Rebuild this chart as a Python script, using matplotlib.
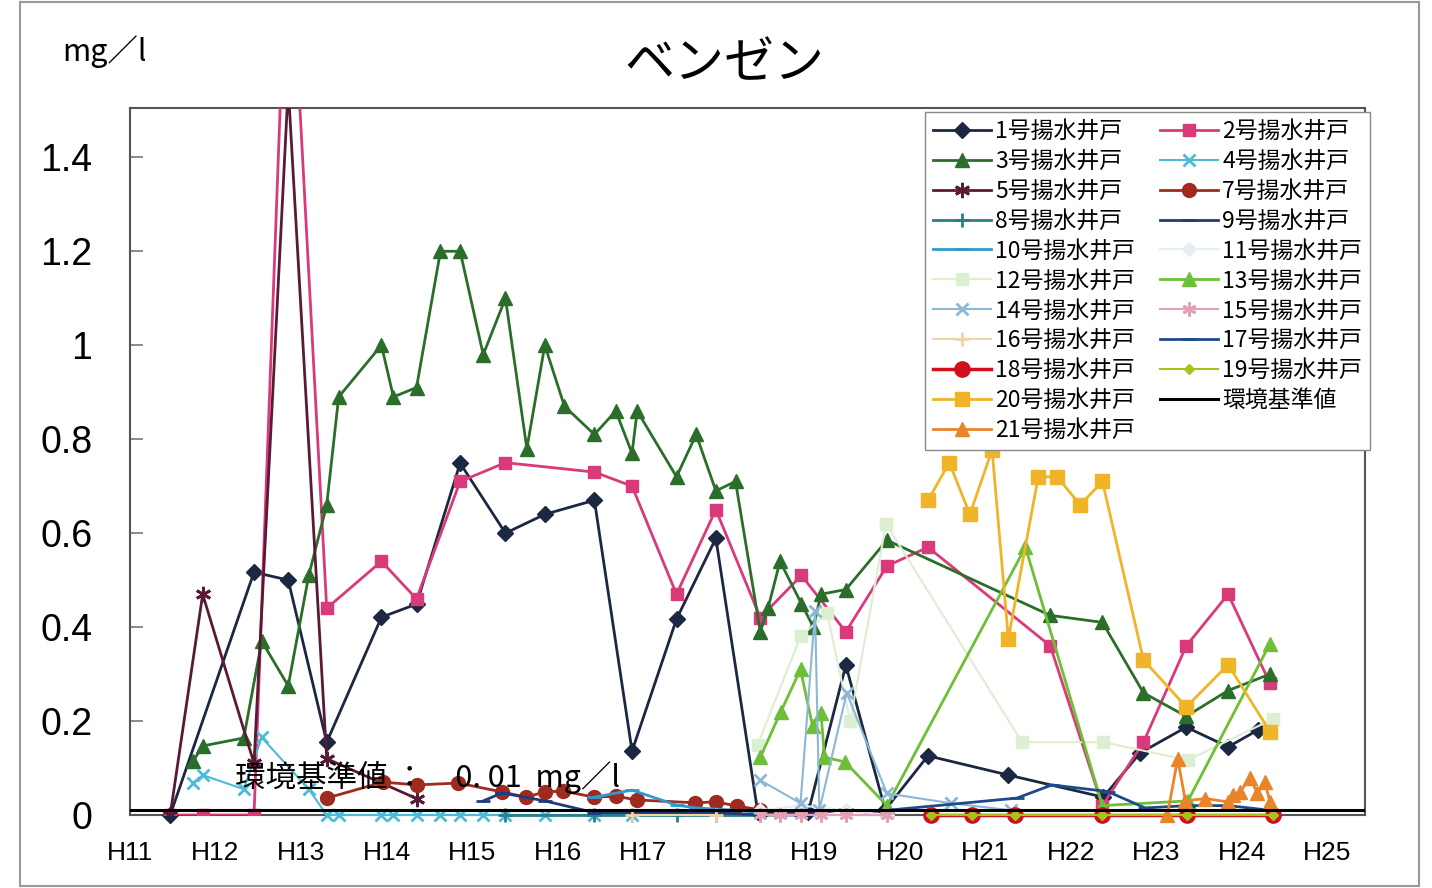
import matplotlib
matplotlib.use("Agg")
import matplotlib.pyplot as plt
from matplotlib.patches import Rectangle

plt.rcParams['font.family'] = ['Liberation Sans', 'Noto Sans CJK JP', 'DejaVu Sans']
JP = ['Noto Sans CJK JP', 'DejaVu Sans']

# ---------------- data (year in Heisei, benzene mg/l) ----------------
x1 = [11.47, 12.45, 12.85, 13.30, 13.94, 14.35, 14.86, 15.39, 15.85, 16.43, 16.87, 17.39, 17.85, 18.34, 18.93, 19.37, 19.83, 20.33, 21.27, 22.38, 22.81, 23.35, 23.84, 24.19]
y1 = [0.0, 0.517, 0.500, 0.155, 0.421, 0.449, 0.749, 0.600, 0.640, 0.670, 0.136, 0.417, 0.589, 0.006, 0.006, 0.319, 0.011, 0.126, 0.085, 0.038, 0.132, 0.187, 0.145, 0.181]

x2 = [11.47, 11.85, 12.45, 12.85, 13.30, 13.94, 14.35, 14.86, 15.39, 16.43, 16.87, 17.39, 17.85, 18.37, 18.85, 19.37, 19.85, 20.33, 21.76, 22.37, 22.85, 23.35, 23.84, 24.33]
y2 = [0.0, 0.0, 0.0, 1.97, 0.44, 0.54, 0.46, 0.71, 0.75, 0.73, 0.70, 0.47, 0.65, 0.42, 0.51, 0.39, 0.53, 0.57, 0.36, 0.02, 0.155, 0.36, 0.47, 0.28]

x3 = [11.74, 11.85, 12.33, 12.54, 12.85, 13.09, 13.30, 13.44, 13.94, 14.08, 14.35, 14.63, 14.86, 15.13, 15.39, 15.64, 15.85, 16.08, 16.43, 16.68, 16.87, 16.93, 17.39, 17.62, 17.85, 18.08, 18.37, 18.46, 18.60, 18.85, 18.99, 19.08, 19.37, 19.85, 21.76, 22.37, 22.85, 23.35, 23.84, 24.33]
y3 = [0.115, 0.147, 0.164, 0.37, 0.275, 0.51, 0.66, 0.89, 1.0, 0.89, 0.91, 1.2, 1.2, 0.98, 1.1, 0.78, 1.0, 0.87, 0.81, 0.86, 0.77, 0.86, 0.72, 0.81, 0.69, 0.71, 0.39, 0.44, 0.54, 0.45, 0.40, 0.47, 0.48, 0.585, 0.425, 0.41, 0.26, 0.21, 0.265, 0.30]

x4 = [11.74, 11.85, 12.33, 12.54, 13.09, 13.30, 13.44, 13.94, 14.08, 14.35, 14.63, 14.86, 15.13, 15.39, 15.85, 16.43, 16.87]
y4 = [0.068, 0.085, 0.055, 0.165, 0.055, 0.0, 0.0, 0.0, 0.0, 0.0, 0.0, 0.0, 0.0, 0.0, 0.0, 0.0, 0.0]

x5 = [11.47, 11.85, 12.45, 12.85, 13.30, 14.35]
y5 = [0.0, 0.47, 0.11, 1.55, 0.12, 0.035]

x7 = [13.30, 13.96, 14.35, 14.84, 15.35, 15.63, 15.85, 16.06, 16.43, 16.68, 16.93, 17.61, 17.85, 18.10, 18.37]
y7 = [0.036, 0.070, 0.064, 0.068, 0.049, 0.038, 0.049, 0.051, 0.038, 0.040, 0.032, 0.026, 0.028, 0.019, 0.011]

x8 = [15.39, 16.43, 16.87, 17.39, 17.85, 18.37]
y8 = [0.0, 0.0, 0.0, 0.0, 0.0, 0.0]

x9 = [15.13, 15.35, 15.85, 16.43, 16.87, 17.39, 17.85, 18.37, 18.85, 19.37, 19.85]
y9 = [0.03, 0.047, 0.03, 0.005, 0.005, 0.005, 0.005, 0.0, 0.0, 0.012, 0.0]

x10 = [16.43, 16.87, 17.39, 17.62, 18.10, 18.37]
y10 = [0.038, 0.053, 0.021, 0.015, 0.01, 0.005]

x11 = [18.37, 18.85, 19.37, 19.85]
y11 = [0.01, 0.02, 0.01, 0.0]

x12 = [18.34, 18.84, 19.15, 19.42, 19.84, 21.43, 22.38, 23.37, 24.37]
y12 = [0.15, 0.38, 0.43, 0.20, 0.62, 0.155, 0.155, 0.117, 0.205]

x13 = [18.37, 18.61, 18.84, 18.98, 19.08, 19.12, 19.36, 19.85, 21.47, 22.37, 23.37, 24.33]
y13 = [0.123, 0.22, 0.31, 0.19, 0.217, 0.123, 0.113, 0.02, 0.57, 0.02, 0.03, 0.365]

x14 = [18.37, 18.84, 19.01, 19.06, 19.38, 19.85, 20.6, 21.3]
y14 = [0.074, 0.025, 0.435, 0.01, 0.26, 0.046, 0.025, 0.01]

x15 = [18.37, 18.60, 18.84, 19.08, 19.37, 19.85]
y15 = [0.0, 0.0, 0.0, 0.0, 0.0, 0.0]

x16 = [16.87, 17.85]
y16 = [0.0, 0.0]

x17 = [19.85, 21.37, 21.78, 22.43, 22.87, 23.37, 23.84, 24.33]
y17 = [0.01, 0.036, 0.064, 0.05, 0.015, 0.02, 0.02, 0.01]

x18 = [20.36, 20.85, 21.35, 22.37, 23.36, 24.36]
y18 = [0.0, 0.0, 0.0, 0.0, 0.0, 0.0]

x19 = [20.36, 20.85, 21.35, 22.37, 23.36, 24.36]
y19 = [0.0, 0.0, 0.0, 0.0, 0.0, 0.0]

x20 = [20.33, 20.58, 20.82, 21.08, 21.27, 21.62, 21.84, 22.11, 22.37, 22.85, 23.35, 23.84, 24.33]
y20 = [0.67, 0.75, 0.64, 0.777, 0.375, 0.72, 0.72, 0.66, 0.71, 0.33, 0.23, 0.32, 0.177]

x21 = [23.13, 23.25, 23.34, 23.57, 23.84, 23.90, 23.98, 24.10, 24.18, 24.27, 24.33]
y21 = [0.0, 0.12, 0.03, 0.035, 0.028, 0.043, 0.05, 0.078, 0.047, 0.07, 0.027]

standard = 0.01
x_ticks = list(range(11, 26))
x_labels = ['H%d' % v for v in x_ticks]
y_ticks = [0, 0.2, 0.4, 0.6, 0.8, 1.0, 1.2, 1.4]
y_labels = ['0', '0.2', '0.4', '0.6', '0.8', '1', '1.2', '1.4']

series = [
    ('1号揚水井戸', x1, y1, '#1c2841', 'D', 8, 2.0),
    ('2号揚水井戸', x2, y2, '#d93a7a', 's', 9, 2.0),
    ('3号揚水井戸', x3, y3, '#2a6e2a', '^', 10, 2.0),
    ('4号揚水井戸', x4, y4, '#4bbcd6', 'x', 9, 1.5),
    ('5号揚水井戸', x5, y5, '#5a1a35', (6, 2, 0), 11, 2.0),
    ('7号揚水井戸', x7, y7, '#9e2a20', 'o', 10, 2.0),
    ('8号揚水井戸', x8, y8, '#2b7d88', '+', 10, 2.0),
    ('9号揚水井戸', x9, y9, '#1f3c7a', '_', 10, 2.0),
    ('10号揚水井戸', x10, y10, '#3399cc', '_', 10, 2.0),
    ('11号揚水井戸', x11, y11, '#e3eff0', 'D', 7, 1.5),
    ('12号揚水井戸', x12, y12, '#dcefd0', 's', 9, 1.5),
    ('13号揚水井戸', x13, y13, '#6cbf36', '^', 10, 2.0),
    ('14号揚水井戸', x14, y14, '#8ab8d6', 'x', 9, 1.5),
    ('15号揚水井戸', x15, y15, '#e6a0b4', (6, 2, 0), 10, 1.5),
    ('16号揚水井戸', x16, y16, '#f2d3a8', '+', 10, 1.5),
    ('17号揚水井戸', x17, y17, '#1f4a8a', '_', 10, 2.0),
    ('18号揚水井戸', x18, y18, '#d0101e', 'o', 11, 2.5),
    ('19号揚水井戸', x19, y19, '#a8c41c', 'D', 5, 1.5),
    ('20号揚水井戸', x20, y20, '#f0b429', 's', 10, 2.0),
    ('21号揚水井戸', x21, y21, '#e8842a', '^', 10, 2.0),
]

W, H = 1432, 888
fig = plt.figure(figsize=(W / 100, H / 100), dpi=100)
ax = fig.add_axes([130 / W, 1 - 815 / H, (1365 - 130) / W, (815 - 108) / H])

handles = {}
for i, (lab, xs, ys, col, mk, ms, lw) in enumerate(series):
    mew = 2 if mk in ('x', '+', '_') or isinstance(mk, tuple) else 1
    ln, = ax.plot(xs, ys, color=col, marker=mk, markersize=ms, linewidth=lw,
                  markeredgewidth=mew, markerfacecolor=col, markeredgecolor=col,
                  label=lab, zorder=3 + i * 0.1, clip_on=(max(ys) > 1.5))
    handles[lab] = ln

std_line = ax.axhline(standard, color='black', linewidth=2.2, zorder=5, label='環境基準値')
handles['環境基準値'] = std_line

ax.set_xlim(11, 25.44)
ax.set_ylim(0, 1.505)
ax.set_xticks(x_ticks)
ax.set_xticklabels(x_labels, fontsize=19)
ax.set_yticks(y_ticks)
ax.set_yticklabels(y_labels, fontsize=27)
ax.tick_params(axis='y', direction='in', length=9, width=1.2, color='#777', pad=27)
ax.tick_params(axis='x', length=0, pad=19)
for s in ax.spines.values():
    s.set_color('#555')
    s.set_linewidth(1.5)

order = ['1号揚水井戸', '3号揚水井戸', '5号揚水井戸', '8号揚水井戸', '10号揚水井戸',
         '12号揚水井戸', '14号揚水井戸', '16号揚水井戸', '18号揚水井戸', '20号揚水井戸',
         '21号揚水井戸',
         '2号揚水井戸', '4号揚水井戸', '7号揚水井戸', '9号揚水井戸', '11号揚水井戸',
         '13号揚水井戸', '15号揚水井戸', '17号揚水井戸', '19号揚水井戸', '環境基準値']
leg = ax.legend([handles[k] for k in order], order, ncol=2,
                loc='upper right', bbox_to_anchor=(1370 / W, 1 - 112 / H),
                bbox_transform=fig.transFigure,
                prop={'family': JP, 'size': 16.5}, frameon=True, fancybox=False,
                edgecolor='#888', framealpha=1, borderpad=0.35, labelspacing=0.3,
                handlelength=2.5, handletextpad=0.2, columnspacing=1.1,
                borderaxespad=0)
leg.get_frame().set_linewidth(1.0)
leg.set_zorder(10)

ax.text(12.23, 0.079, '環境基準値 ：　0. 01  mg／l', fontsize=22, family=JP,
        ha='left', va='center', color='black', zorder=6)

fig.text(724 / W, 1 - 64 / H, 'ベンゼン', fontsize=36, family=JP, ha='center', va='center')
fig.text(62 / W, 1 - 52 / H, 'mg／l', fontsize=22, family=JP, ha='left', va='center')

fig.patches.append(Rectangle((20 / W, 2 / H), (1419 - 20) / W, (886 - 2) / H,
                             transform=fig.transFigure, fill=False,
                             edgecolor='#999', linewidth=1.5))

fig.savefig('out.png', dpi=100)
